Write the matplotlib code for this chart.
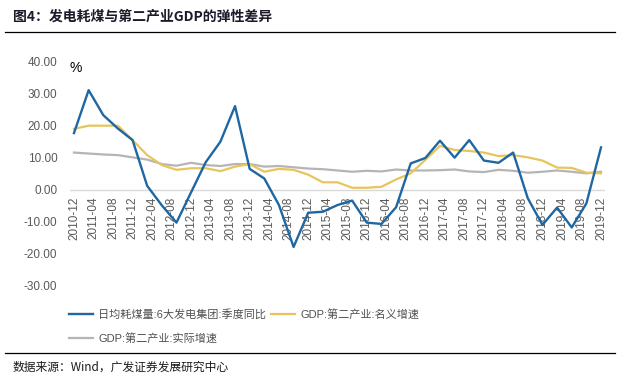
import matplotlib
matplotlib.use("Agg")
import matplotlib.pyplot as plt
from matplotlib.lines import Line2D

plt.rcParams['font.family'] = ['Liberation Sans', 'Noto Sans CJK SC', 'DejaVu Sans']
CJK = ['Noto Sans CJK SC', 'DejaVu Sans']
MIX = ['Liberation Sans', 'Noto Sans CJK SC', 'DejaVu Sans']

# quarterly dates, 2010-12 .. 2019-12
quarters = ['2010-12', '2011-03', '2011-06', '2011-09', '2011-12', '2012-03', '2012-06', '2012-09',
            '2012-12', '2013-03', '2013-06', '2013-09', '2013-12', '2014-03', '2014-06', '2014-09',
            '2014-12', '2015-03', '2015-06', '2015-09', '2015-12', '2016-03', '2016-06', '2016-09',
            '2016-12', '2017-03', '2017-06', '2017-09', '2017-12', '2018-03', '2018-06', '2018-09',
            '2018-12', '2019-03', '2019-06', '2019-09', '2019-12']

coal = [17.8, 31.2, 23.4, 19.2, 15.6, 1.3, -4.8, -10.2, -0.7, 8.7, 15.1, 26.2, 6.6, 3.6, -4.7, -17.8,
        -7.1, -6.8, -4.7, -3.3, -10.2, -10.6, -5.4, 8.3, 10.0, 15.4, 10.1, 15.6, 9.2, 8.5, 11.7, -2.6,
        -10.9, -5.5, -11.7, -4.2, 13.3]
nominal = [19.1, 20.1, 20.1, 20.1, 15.6, 10.9, 7.8, 6.3, 6.8, 6.8, 5.9, 7.3, 8.1, 5.7, 6.6, 6.3,
           4.8, 2.4, 2.4, 0.7, 0.7, 1.0, 3.3, 5.2, 9.4, 13.8, 12.5, 12.2, 11.7, 10.6, 10.9, 10.2,
           9.2, 7.0, 6.9, 5.4, 5.2]
real = [11.7, 11.4, 11.1, 10.9, 10.2, 9.5, 8.1, 7.6, 8.5, 7.8, 7.5, 8.1, 8.1, 7.3, 7.5, 7.1,
        6.7, 6.5, 6.1, 5.7, 6.0, 5.8, 6.4, 6.1, 6.1, 6.2, 6.4, 5.8, 5.6, 6.3, 6.0, 5.4,
        5.7, 6.1, 5.7, 5.2, 5.7]

names = ['日均耗煤量:6大发电集团:季度同比', 'GDP:第二产业:名义增速', 'GDP:第二产业:实际增速']
colors = ['#1f67a3', '#e8c55c', '#b5b5b5']
yticks = [40, 30, 20, 10, 0, -10, -20, -30]


def month_index(s, start='2010-12'):
    y, m = map(int, s.split('-'))
    y0, m0 = map(int, start.split('-'))
    return (y - y0) * 12 + (m - m0)


x = [month_index(q) for q in quarters]
# tick labels every 4 months
tick_pos = list(range(0, month_index('2019-12') + 1, 4))
tick_lab = []
for t in tick_pos:
    y = 2010 + (11 + t) // 12
    m = (11 + t) % 12 + 1
    tick_lab.append('%d-%02d' % (y, m))

W, H = 625, 381
fig = plt.figure(figsize=(W / 100, H / 100), dpi=100)

# axes in pixel terms: data x 0 -> 74px, 108 -> 601px; y 40 -> 62px, -30 -> 286px
left, right, top, bottom = 70, 605, 62, 286
ax = fig.add_axes([left / W, 1 - bottom / H, (right - left) / W, (bottom - top) / H])
ppm = (601 - 74) / 108.0
ax.set_xlim(-(74 - left) / ppm, 108 + (right - 601) / ppm)
ax.set_ylim(-30, 40)

ax.axhline(0, color='#d9d9d9', lw=1.0, zorder=1)
ax.plot(x, real, color=colors[2], lw=1.6, zorder=2)
ax.plot(x, nominal, color=colors[1], lw=1.6, zorder=3)
ax.plot(x, coal, color=colors[0], lw=1.7, zorder=4)

for s in ax.spines.values():
    s.set_visible(False)
ax.set_yticks(yticks)
ax.set_yticklabels(['%.2f' % v for v in yticks], color='#595959', fontsize=8.5)
ax.tick_params(axis='y', length=0, pad=9)
ax.set_xticks([])

for t, lab in zip(tick_pos, tick_lab):
    ax.annotate(lab, (t, 0), xytext=(0, -4.5), textcoords='offset points', rotation=90,
                ha='center', va='top', fontsize=8.5, color='#595959')

fig.text(70 / W, 1 - 68 / H, '%', fontsize=10, color='#000000', va='center', ha='left')

# title and rules
fig.text(13 / W, 1 - 17 / H, '图4：发电耗煤与第二产业GDP的弹性差异', family=CJK, fontsize=10,
         fontweight='bold', color='#1a1a2a', va='center', ha='left')
fig.add_artist(Line2D([5 / W, 615 / W], [1 - 32 / H, 1 - 32 / H], color='black', lw=0.9))
fig.add_artist(Line2D([5 / W, 615 / W], [1 - 353 / H, 1 - 353 / H], color='black', lw=0.9))
fig.text(13 / W, 1 - 367 / H, '数据来源：Wind，广发证券发展研究中心', family=CJK, fontsize=8.5,
         color='#1a1a1a', va='center', ha='left')

# legend: blue, yellow on row 1; gray on row 2
handles = [Line2D([], [], color=colors[0], lw=1.7),
           Line2D([], [], color=colors[2], lw=1.6),
           Line2D([], [], color=colors[1], lw=1.6)]
labels = [names[0], names[2], names[1]]
leg = fig.legend(handles, labels, ncol=2, loc='upper left', bbox_to_anchor=(69 / W, 1 - 309 / H),
                 frameon=False, prop={'family': MIX, 'size': 8}, handlelength=2.2,
                 handletextpad=0.45, columnspacing=0.4, labelspacing=1.15, borderpad=0, borderaxespad=0)
for t in leg.get_texts():
    t.set_color('#505050')

fig.savefig('out.png', dpi=100)
